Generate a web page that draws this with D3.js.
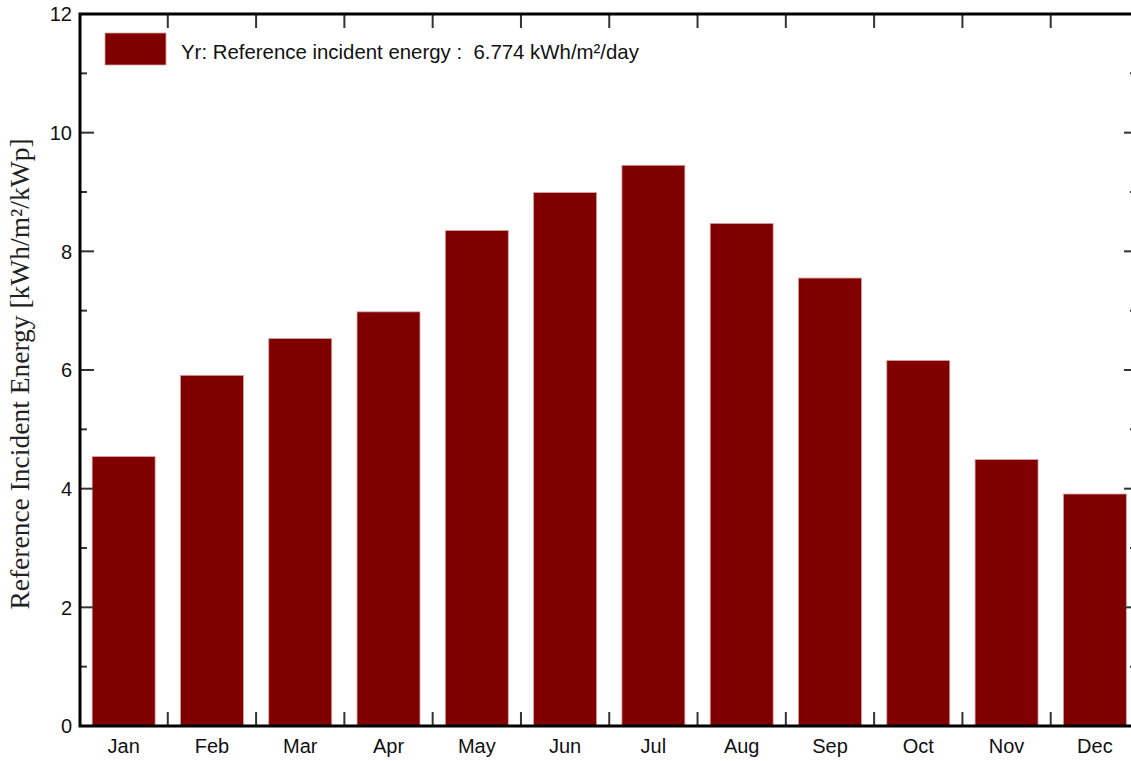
<!DOCTYPE html>
<html>
<head>
<meta charset="utf-8">
<script src="https://cdn.jsdelivr.net/npm/d3@7"></script>
<style>
  html, body { margin: 0; padding: 0; background: #fff; }
  svg { display: block; }
</style>
</head>
<body>
<svg id="chart" width="1131" height="761"></svg>
<script>
// Monthly reference incident energy (kWh/m²/kWp)
const months = ["Jan", "Feb", "Mar", "Apr", "May", "Jun", "Jul", "Aug", "Sep", "Oct", "Nov", "Dec"];
const yrValues = [4.54, 5.91, 6.53, 6.98, 8.35, 8.99, 9.45, 8.47, 7.55, 6.16, 4.49, 3.91];
const yMajorTicks = [0, 2, 4, 6, 8, 10, 12];
const yMinorTicks = [1, 3, 5, 7, 9, 11];
const legendLabel = "Yr: Reference incident energy :  6.774 kWh/m²/day";
const yTitle = "Reference Incident Energy [kWh/m²/kWp]";

const svg = d3.select("#chart");
const plot = { left: 79.5, right: 1139, top: 14, bottom: 726 };

const x = d3.scaleBand()
  .domain(months)
  .range([plot.left, plot.right])
  .paddingInner(0.287)
  .paddingOuter(0.1435);

const y = d3.scaleLinear().domain([0, 12]).range([plot.bottom, plot.top]);

const barColor = "#800000";

// Bars
svg.append("g")
  .selectAll("rect")
  .data(months)
  .join("rect")
  .attr("x", d => x(d))
  .attr("y", (d, i) => y(yrValues[i]))
  .attr("width", x.bandwidth())
  .attr("height", (d, i) => y(0) - y(yrValues[i]))
  .attr("fill", barColor)
  .attr("stroke", "#d9a0a0")
  .attr("stroke-width", 0.8);

// Category boundaries for top/bottom ticks
const step = x.step();
const boundaries = d3.range(1, months.length).map(i => plot.left + i * step);

const tickColor = "#333";
const axisG = svg.append("g");

// Bottom boundary ticks (pointing up)
axisG.selectAll(".bt").data(boundaries).join("line")
  .attr("x1", d => d).attr("x2", d => d)
  .attr("y1", plot.bottom).attr("y2", plot.bottom - 14)
  .attr("stroke", tickColor).attr("stroke-width", 2);

// Top boundary ticks (pointing down)
axisG.selectAll(".tt").data(boundaries).join("line")
  .attr("x1", d => d).attr("x2", d => d)
  .attr("y1", plot.top).attr("y2", plot.top + 14)
  .attr("stroke", tickColor).attr("stroke-width", 2);

// Left and right y ticks (pointing inward)
const leftX = 80, rightX = 1138;
axisG.selectAll(".lmaj").data(yMajorTicks).join("line")
  .attr("x1", leftX).attr("x2", leftX + 14)
  .attr("y1", d => y(d)).attr("y2", d => y(d))
  .attr("stroke", tickColor).attr("stroke-width", 2);
axisG.selectAll(".lmin").data(yMinorTicks).join("line")
  .attr("x1", leftX).attr("x2", leftX + 7)
  .attr("y1", d => y(d)).attr("y2", d => y(d))
  .attr("stroke", tickColor).attr("stroke-width", 2);
axisG.selectAll(".rmaj").data(yMajorTicks).join("line")
  .attr("x1", rightX).attr("x2", rightX - 14)
  .attr("y1", d => y(d)).attr("y2", d => y(d))
  .attr("stroke", tickColor).attr("stroke-width", 2);
axisG.selectAll(".rmin").data(yMinorTicks).join("line")
  .attr("x1", rightX).attr("x2", rightX - 8)
  .attr("y1", d => y(d)).attr("y2", d => y(d))
  .attr("stroke", tickColor).attr("stroke-width", 2);

// Frame
axisG.append("path")
  .attr("d", `M${leftX},${plot.top}H${rightX}V${plot.bottom}H${leftX}Z`)
  .attr("fill", "none")
  .attr("stroke", "#000")
  .attr("stroke-width", 3);

// Y tick labels
svg.append("g").selectAll("text").data(yMajorTicks).join("text")
  .attr("x", 72)
  .attr("y", d => y(d))
  .attr("dy", "0.36em")
  .attr("text-anchor", "end")
  .attr("font-family", "Liberation Sans, Arial, sans-serif")
  .attr("font-size", 20)
  .attr("fill", "#111")
  .text(d => d);

// X category labels
svg.append("g").selectAll("text").data(months).join("text")
  .attr("x", d => x(d) + x.bandwidth() / 2)
  .attr("y", 753)
  .attr("text-anchor", "middle")
  .attr("font-family", "Liberation Sans, Arial, sans-serif")
  .attr("font-size", 20)
  .attr("fill", "#111")
  .text(d => d);

// Y axis title
svg.append("text")
  .attr("transform", `translate(29,374) rotate(-90)`)
  .attr("text-anchor", "middle")
  .attr("font-family", "Liberation Serif, Times New Roman, serif")
  .attr("font-size", 27.5)
  .attr("fill", "#222")
  .text(yTitle);

// Legend
const legend = svg.append("g");
legend.append("rect")
  .attr("x", 105).attr("y", 33)
  .attr("width", 61).attr("height", 32)
  .attr("fill", barColor)
  .attr("stroke", "#d9a0a0")
  .attr("stroke-width", 0.8);
legend.append("text")
  .attr("x", 181).attr("y", 59)
  .attr("font-family", "Liberation Sans, Arial, sans-serif")
  .attr("font-size", 20.4)
  .attr("fill", "#111")
  .style("white-space", "pre")
  .attr("xml:space", "preserve")
  .text(legendLabel);
</script>
</body>
</html>
